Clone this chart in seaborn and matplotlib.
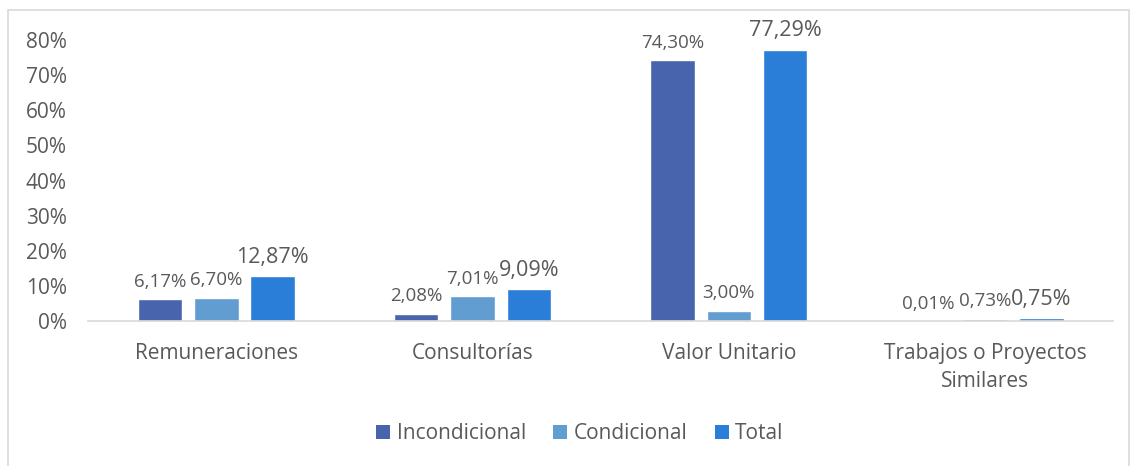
import matplotlib
matplotlib.use("Agg")
import matplotlib.pyplot as plt
import seaborn as sns
import pandas as pd
from matplotlib.patches import Rectangle, Patch
from matplotlib.ticker import FuncFormatter

categories = ["Remuneraciones", "Consultorías", "Valor Unitario", "Trabajos o Proyectos\nSimilares"]
series_names = ["Incondicional", "Condicional", "Total"]
incondicional = [6.17, 2.08, 74.30, 0.01]
condicional = [6.70, 7.01, 3.00, 0.73]
total = [12.87, 9.09, 77.29, 0.75]
y_ticks = [0, 10, 20, 30, 40, 50, 60, 70, 80]

colors = ["#4864AC", "#629DD1", "#2B7ED8"]
text_color = "#595959"

sns.set_theme(style="white")
plt.rcParams["font.family"] = ["Open Sans", "DejaVu Sans"]

rows = []
for name, vals in zip(series_names, [incondicional, condicional, total]):
    for cat, v in zip(categories, vals):
        rows.append({"Categoría": cat, "Serie": name, "Valor": v})
df = pd.DataFrame(rows)

fig = plt.figure(figsize=(11.30, 4.66), dpi=100)
ax = fig.add_axes([0.0780, 0.311, 0.9071, 0.603])

sns.barplot(data=df, x="Categoría", y="Valor", hue="Serie", order=categories,
            hue_order=series_names, palette=colors, width=0.66, gap=0.21,
            saturation=1, ax=ax, legend=False, errorbar=None)

ax.set_ylim(0, 80)
ax.set_xlim(-0.5, len(categories) - 0.5)
ax.set_yticks(y_ticks)
ax.yaxis.set_major_formatter(FuncFormatter(lambda v, p: f"{int(v)}%"))
ax.tick_params(axis="y", labelsize=15, colors=text_color, length=0, pad=15.5)
ax.tick_params(axis="x", labelsize=15, colors=text_color, length=0, pad=16)
for lbl in ax.get_xticklabels():
    lbl.set_linespacing(1.4)
ax.set_xlabel("")
ax.set_ylabel("")
for side in ["top", "right", "left"]:
    ax.spines[side].set_visible(False)
ax.spines["bottom"].set_color("#D9D9D9")
ax.spines["bottom"].set_linewidth(1.2)

# Value labels above each bar
for container, name in zip(ax.containers, series_names):
    size = 15.5 if name == "Total" else 13.5
    labels = [f"{v:.2f}%".replace(".", ",") for v in container.datavalues]
    ax.bar_label(container, labels=labels, padding=6, fontsize=size,
                 color=text_color, clip_on=False)

handles = [Patch(facecolor=c, edgecolor="none") for c in colors]
fig.legend(handles, series_names, loc="center", bbox_to_anchor=(0.513, 0.069),
           ncol=3, frameon=False, fontsize=15, labelcolor=text_color,
           handlelength=0.7, handleheight=0.7, handletextpad=0.3, columnspacing=1.3)

# Chart frame
fig.patches.append(Rectangle((8 / 1130, -0.01), 1129 / 1130 - 8 / 1130, 1 - 10 / 466 + 0.01,
                             transform=fig.transFigure, fill=False,
                             edgecolor="#D9D9D9", linewidth=1.2))

fig.savefig("out.png", dpi=100)
